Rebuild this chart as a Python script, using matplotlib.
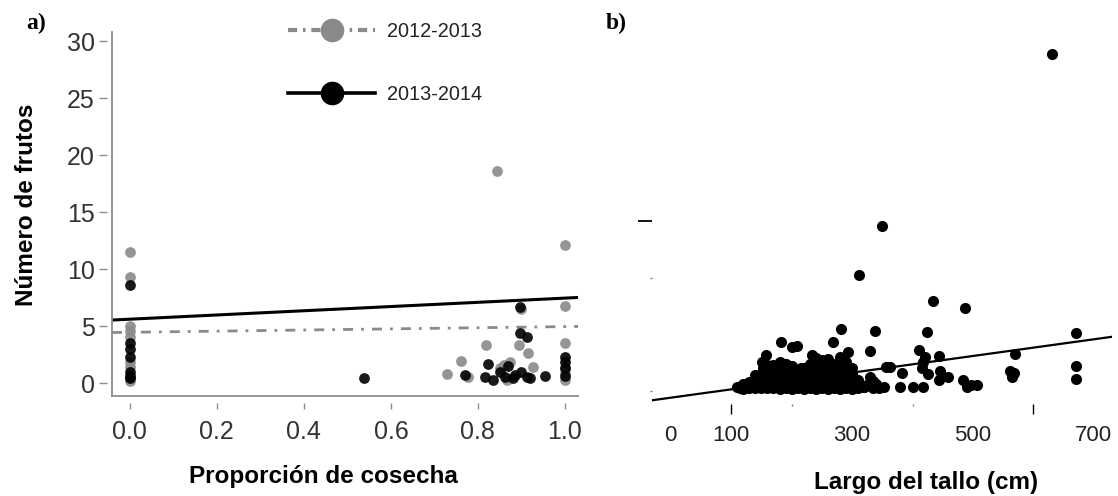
import matplotlib
matplotlib.use("Agg")
import matplotlib.pyplot as plt
from matplotlib.lines import Line2D
import numpy as np

plt.rcParams['font.family'] = ['Liberation Sans', 'DejaVu Sans']

# --- panel a: fruits vs harvest proportion, two seasons ---
prop_1213 = [0.0, 0.0, 0.0, 0.0, 0.0, 0.0, 0.0, 0.0, 0.0,
             0.729, 0.76, 0.777, 0.818, 0.843, 0.85, 0.866, 0.874, 0.895, 0.90, 0.916, 0.927, 0.86,
             1.0, 1.0, 1.0, 1.0, 1.0, 1.0]
frut_1213 = [11.5, 9.3, 5.0, 4.6, 4.0, 1.8, 1.4, 0.4, 0.2,
             0.8, 1.9, 0.5, 3.3, 18.6, 1.3, 0.25, 1.8, 3.3, 6.5, 2.6, 1.4, 1.6,
             12.1, 6.8, 3.5, 1.3, 0.9, 0.3]

prop_1314 = [0.0, 0.0, 0.0, 0.0, 0.0, 0.0, 0.0,
             0.538,
             0.77, 0.816, 0.823, 0.835, 0.85, 0.862, 0.87, 0.885, 0.897, 0.897, 0.912, 0.912, 0.92,
             0.954, 0.90, 0.88,
             1.0, 1.0, 1.0, 1.0]
frut_1314 = [8.6, 3.5, 3.0, 2.3, 1.0, 0.6, 0.4,
             0.45,
             0.7, 0.5, 1.7, 0.3, 1.0, 0.5, 1.5, 0.7, 6.7, 4.4, 4.0, 0.5, 0.4,
             0.6, 1.0, 0.4,
             2.3, 1.8, 1.3, 0.6]

# fitted lines (intercept, slope)
fit_1213 = (4.45, 0.5)
fit_1314 = (5.6, 1.85)

# --- panel b: fruits vs stem length ---
largo = [630, 350, 311, 434, 486, 282, 338, 424, 671, 183, 269, 209, 201, 329, 411, 570,
         444, 293, 158, 233, 251, 151, 152, 356, 363, 383, 671, 671, 562, 565, 418, 415,
         446, 459, 444, 484, 496, 507, 330, 319, 352, 380, 401, 418, 425, 421, 490, 568,
         110, 115, 120, 120, 125, 130, 130, 135, 140, 140, 140, 145, 145, 150, 150, 150,
         155, 155, 160, 160, 160, 165, 165, 165,
         170, 170, 170, 170, 175, 175, 175, 180, 180, 180, 180, 180, 185, 185, 185,
         190, 190, 190, 190, 195, 195, 195,
         200, 200, 200, 200, 205, 205, 205, 210, 210, 210, 215, 215, 215, 220, 220, 220, 220,
         225, 225, 225, 230, 230, 230, 230, 235, 235, 235, 240, 240, 240, 240, 240,
         245, 245, 245, 250, 250, 250, 255, 255, 255,
         260, 260, 260, 260, 260, 265, 265, 265, 270, 270, 270, 270, 275, 275, 275,
         280, 280, 280, 280, 280, 285, 285, 285, 290, 290, 290, 290, 295, 295,
         300, 300, 300, 305, 305, 310, 310, 315, 320, 325, 335, 335, 345, 340, 300]
frutos = [29.7, 14.5, 10.2, 7.9, 7.3, 5.5, 5.3, 5.2, 5.1, 4.3, 4.3, 4.0, 3.9, 3.5, 3.6, 3.3,
          3.1, 3.4, 3.2, 3.2, 2.7, 2.6, 2.0, 2.1, 2.1, 1.6, 2.2, 1.1, 1.8, 1.2, 2.6, 2.0,
          1.8, 1.2, 1.0, 1.0, 0.5, 0.5, 1.2, 0.35, 0.35, 0.35, 0.35, 0.4, 1.5, 3.0, 0.4, 1.6,
          0.4, 0.3, 0.6, 0.2, 0.5, 0.8, 0.3, 0.4, 0.9, 0.3, 1.4, 0.5, 1.1, 0.3, 0.9, 1.5,
          0.4, 1.9, 0.3, 1.0, 2.3, 0.5, 1.4, 2.0,
          0.3, 1.0, 1.6, 2.3, 0.5, 1.3, 2.0, 0.2, 0.8, 1.4, 2.0, 2.6, 0.5, 1.1, 1.8,
          0.3, 1.0, 1.7, 2.4, 0.5, 1.3, 2.0,
          0.2, 0.8, 1.4, 2.2, 0.5, 1.1, 1.8, 0.3, 1.0, 1.7, 0.5, 1.3, 2.0, 0.2, 0.7, 1.3, 2.0,
          0.5, 1.0, 1.7, 0.3, 1.0, 1.6, 2.4, 0.5, 1.3, 2.0, 0.2, 0.8, 1.5, 2.2, 2.9,
          0.5, 1.2, 1.9, 0.3, 1.0, 1.8, 0.5, 1.4, 2.3,
          0.2, 0.7, 1.3, 2.1, 2.8, 0.5, 1.1, 1.8, 0.3, 1.0, 1.6, 2.4, 0.5, 1.3, 2.0,
          0.2, 0.8, 1.4, 2.2, 3.0, 0.5, 1.1, 1.8, 0.3, 1.0, 1.8, 2.6, 0.5, 1.3,
          0.2, 0.8, 1.5, 0.5, 1.1, 0.3, 1.0, 0.5, 0.4, 0.5, 0.3, 0.9, 0.3, 0.6, 2.0]
fit_largo = (-0.585, 0.00735)

a_yticks = [0, 5, 10, 15, 20, 25, 30]
a_xticks = [0.0, 0.2, 0.4, 0.6, 0.8, 1.0]
b_xlabels = [0, 100, 300, 500, 700]

gris = '#8a8a8a'
eje = '#8c8c8c'
W, H = 1118, 496

fig = plt.figure(figsize=(W / 100, H / 100), dpi=100)

# ---------------- a) ----------------
ax = fig.add_axes([112 / W, 1 - 396 / H, 466 / W, 364 / H])
ax.set_xlim(-0.041, 1.03)
ax.set_ylim(-1.14, 30.8)
for s in ['top', 'right']:
    ax.spines[s].set_visible(False)
for s in ['left', 'bottom']:
    ax.spines[s].set_color(eje)
    ax.spines[s].set_linewidth(1.3)
ax.set_xticks([])
ax.set_yticks([])

xx = np.array(ax.get_xlim())
ax.plot(xx, fit_1213[0] + fit_1213[1] * xx, color=gris, lw=2.0,
        linestyle=(0, (3.6, 2.9, 1.0, 2.9)), zorder=1)
ax.plot(xx, fit_1314[0] + fit_1314[1] * xx, color='black', lw=2.2, zorder=1)
ax.scatter(prop_1213, frut_1213, s=60, color=gris, alpha=0.9, linewidths=0, zorder=2)
ax.scatter(prop_1314, frut_1314, s=60, color='black', alpha=0.9, linewidths=0, zorder=3)

# tick marks sit slightly off the frame
sy = ax.secondary_yaxis(-5 / 466)
sy.spines['left'].set_visible(False)
sy.set_yticks(a_yticks)
sy.tick_params(length=5.8, width=1.0, color=eje, pad=3, labelsize=18, labelcolor='#333333')
sx = ax.secondary_xaxis(-7 / 364)
sx.spines['bottom'].set_visible(False)
sx.set_xticks(a_xticks)
sx.set_xticklabels(['%.1f' % t for t in a_xticks])
sx.tick_params(length=4.5, width=1.0, color=eje, pad=8, labelsize=18, labelcolor='#333333')

leg_handles = [
    Line2D([], [], color=gris, lw=3, linestyle=(0, (2.2, 1.4, 0.6, 1.4)),
           marker='o', markersize=16, markerfacecolor=gris, markeredgecolor=gris),
    Line2D([], [], color='black', lw=2.6, marker='o', markersize=16,
           markerfacecolor='black', markeredgecolor='black'),
]
ax.legend(leg_handles, ['2012-2013', '2013-2014'], loc='upper left',
          bbox_to_anchor=(288 / W, 1 - 22 / H), bbox_transform=fig.transFigure,
          frameon=False, fontsize=14.3, handlelength=4.4, handletextpad=0.6,
          labelspacing=2.2, borderpad=0, borderaxespad=0, labelcolor='#222222')

fig.text(27 / W, 1 - 205 / H, 'Número de frutos', rotation=90, ha='center', va='center',
         fontsize=17.5, fontweight='bold')
fig.text(323 / W, 1 - 477 / H, 'Proporción de cosecha', ha='center', va='center',
         fontsize=17.5, fontweight='bold')
fig.text(36 / W, 1 - 23 / H, 'a)', ha='center', va='center', fontsize=17,
         fontweight='bold', family=['Liberation Serif', 'DejaVu Serif'])

# ---------------- b) ----------------
bx = fig.add_axes([652 / W, 1 - 404 / H, 460 / W, 362.6 / H])
bx.set_xlim(-31, 730)
bx.set_ylim(-1.14, 30.8)
for s in bx.spines.values():
    s.set_visible(False)

lx = np.array(bx.get_xlim())
bx.plot(lx, fit_largo[0] + fit_largo[1] * lx, color='black', lw=1.6, zorder=1)
bx.scatter(largo, frutos, s=64, color='black', linewidths=0, zorder=2)

bx.set_xticks(b_xlabels)
bx.set_xticklabels([str(v) for v in b_xlabels])
bx.set_xticks([0, 200, 300, 400, 500], minor=True)
bx.tick_params(axis='x', which='major', length=0, pad=15, labelsize=16, labelcolor='#222222')
bx.tick_params(axis='x', which='minor', length=1.2, width=1.0, color='#777777')
bx.set_yticks([15])
bx.set_yticklabels([])
bx.set_yticks([0, 10], minor=True)
bx.tick_params(axis='y', which='major', length=10, width=1.3, color='black')
bx.tick_params(axis='y', which='minor', length=1.2, width=1.0, color='#777777')

bt = bx.secondary_xaxis('bottom')
bt.spines['bottom'].set_visible(False)
bt.set_xticks([100, 600])
bt.set_xticklabels([])
bt.tick_params(length=7.5, width=1.0, color='black')

fig.text(926 / W, 1 - 483 / H, 'Largo del tallo (cm)', ha='center', va='center',
         fontsize=17.5, fontweight='bold')
fig.text(616 / W, 1 - 23 / H, 'b)', ha='center', va='center', fontsize=17,
         fontweight='bold', family=['Liberation Serif', 'DejaVu Serif'])

fig.savefig('out.png', dpi=100)
